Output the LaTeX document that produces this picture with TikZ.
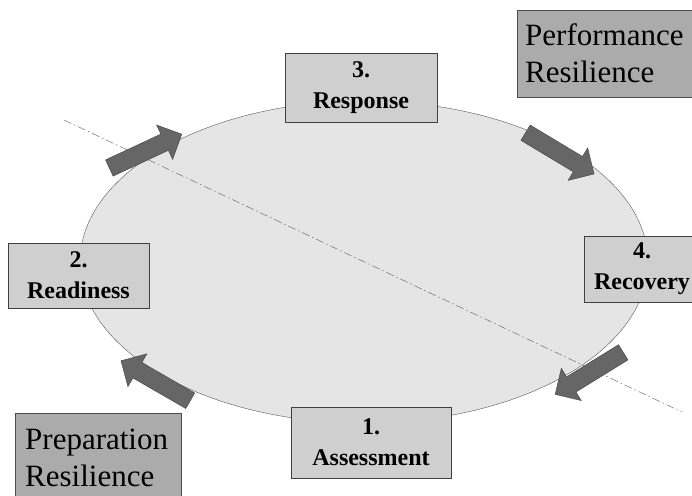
\documentclass[tikz,border=0pt]{standalone}
\usepackage{fontspec}
\setmainfont{Liberation Serif}
\usetikzlibrary{shapes.geometric,shapes.arrows}
\begin{document}
\begin{tikzpicture}[x=1pt,y=-1pt]
	\tikzstyle{cycle} = [ draw=black!65, fill=black!10, ellipse, thin, inner sep=0pt, minimum width=568pt, minimum height=322pt ];
	\tikzstyle{phase} = [ draw=black!75, fill=black!19, thin, align=center, inner sep=0pt, font={\fontsize{24}{31}\selectfont\bfseries} ];
	\tikzstyle{kind} = [ draw=black!70, fill=black!33, thin, align=left, anchor=north west, inner ysep=0pt, font={\fontsize{31}{37}\selectfont} ];
	\tikzstyle{flow} = [ draw=black!75, fill=black!60, single arrow, single arrow head extend=10pt, inner sep=8.75pt, minimum height=80pt ];
	\tikzstyle{split} = [ draw=black!65, thin, dash pattern=on 8pt off 3pt on 1.5pt off 3pt ];

	\useasboundingbox (0,0) rectangle (692,495);

	\node[cycle] (cycle) at (364,262) {};

	\coordinate (s1) at (64,120);
	\coordinate (s2) at (682,412);
	\draw[split] (s1) -- (s2);

	\node[phase, minimum width=152pt, minimum height=69pt] (response) at (361,88) {3.\\Response};
	\node[phase, minimum width=141pt, minimum height=65pt] (readiness) at (78.5,275.5) {2.\\Readiness};
	\node[phase, minimum width=116pt, minimum height=66pt] (recovery) at (642,269) {4.\\Recovery};
	\node[phase, minimum width=160pt, minimum height=71pt] (assessment) at (371,442.5) {1.\\Assessment};

	\node[kind, inner xsep=8pt, text width=167pt, minimum height=87pt] (perf) at (517,10) {Performance\\Resilience};
	\node[kind, inner xsep=10pt, text width=146pt, minimum height=90pt] (prep) at (15,413) {Preparation\\Resilience};

	\foreach \px/\py/\ang [count=\i] in {141.5/153/25, 556/151/-31, 593/371/211.7, 159.5/383/150} {
		\node[flow, rotate=\ang] (flow\i) at (\px,\py) {};
	}
\end{tikzpicture}
\end{document}
